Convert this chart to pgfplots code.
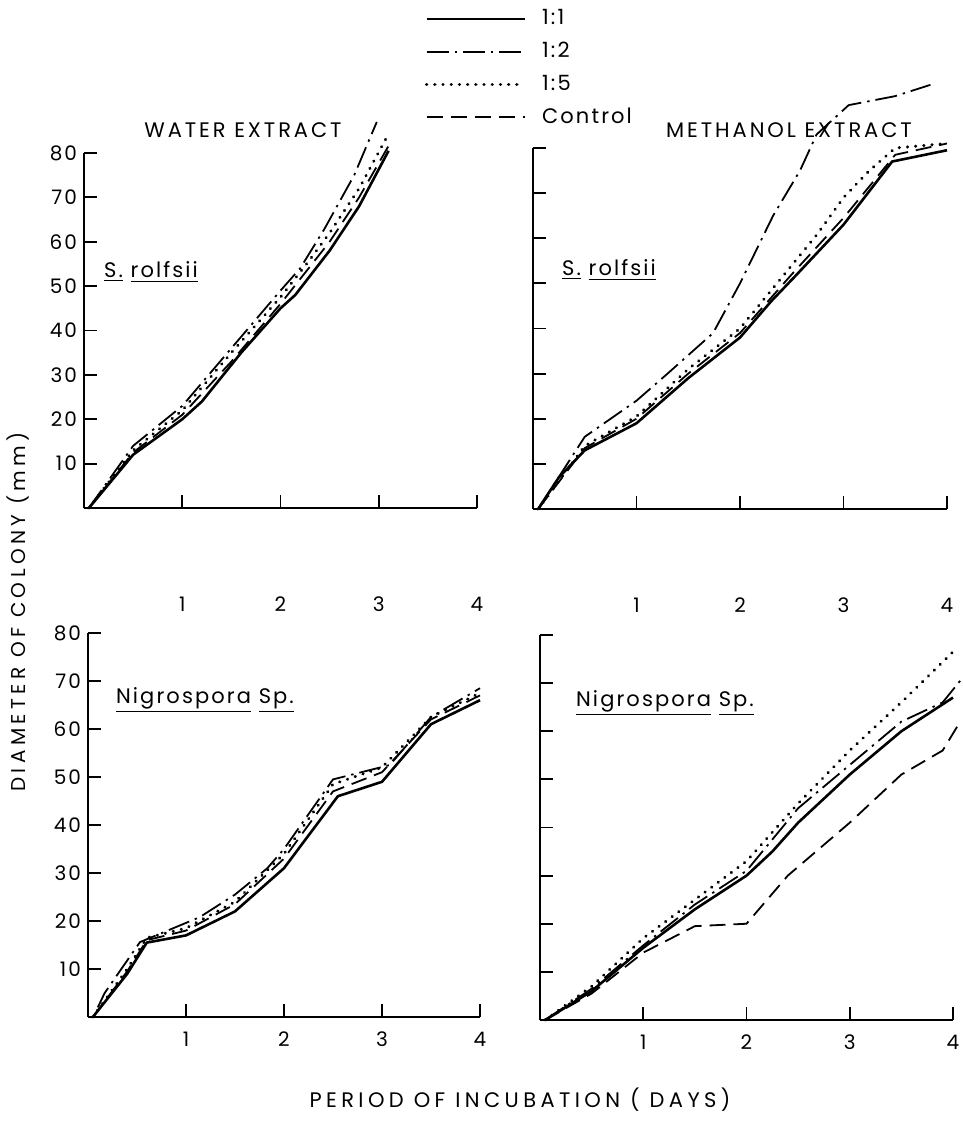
\documentclass[border=0pt]{standalone}
\usepackage{fontspec}
\setmainfont{Poppins}[LetterSpace=10]
\usepackage{pgfplots}
\pgfplotsset{compat=1.18}
\tikzset{
  s11/.style={solid, line width=1.3pt},
  s12/.style={dash pattern=on 11pt off 3pt on 1.2pt off 3pt, line width=0.9pt},
  s15/.style={dash pattern=on 0.1pt off 4pt, line cap=round, line width=1.6pt},
  sctl/.style={dash pattern=on 8pt off 4pt, line width=0.9pt},
}
\pgfplotsset{
  panel/.style={
    scale only axis, axis lines*=left, xmin=0, xmax=4, ymin=0, ymax=80,
    xtick={1,2,3,4}, ytick={10,20,...,80}, tick align=inside,
    major tick length=6.5pt,
    axis line style={line width=1.3pt, black},
    every tick/.style={line width=0.9pt, black},
    clip=false,
    /pgf/number format/assume math mode=true,
    tick label style={font=\fontsize{10}{12}\selectfont},
    every axis plot/.append style={black, no markers},
  },
}
\begin{document}
\begin{tikzpicture}[x=0.5pt,y=0.5pt]
\path[use as bounding box] (0,0) rectangle (963,1141);

% ---------- top left: water extract, S. rolfsii
\begin{axis}[panel, at={(42pt,316.5pt)}, anchor=south west, width=196.5pt, height=177.5pt,
  xticklabel style={yshift=-41pt}]
\addplot[s11] coordinates {(0.05,0) (0.5,12) (1,20) (1.2,24) (1.6,35) (2,45) (2.15,48) (2.5,58) (2.8,68) (3.1,80.5)};
\addplot[s12] coordinates {(0.05,0) (0.5,14) (1,23) (1.5,36) (2,49) (2.2,54) (2.45,63) (2.75,75) (2.98,87)};
\addplot[s15] coordinates {(0.05,0) (0.5,13) (1,22) (1.5,35) (2,47.5) (2.3,56) (2.5,62) (2.8,72) (3.08,83.5)};
\addplot[sctl] coordinates {(0.05,0) (0.5,12.5) (1,21) (1.5,33) (2,46) (2.5,60) (2.8,70) (3.11,82)};
\end{axis}

% ---------- top right: methanol extract, S. rolfsii
\begin{axis}[panel, at={(266.5pt,316pt)}, anchor=south west, width=207pt, height=180.5pt,
  yticklabels={}, xticklabel style={yshift=-41pt},
  legend style={at={(-0.262,1.395)}, anchor=north west, draw=none, fill=none,
    font=\fontsize{10.5}{12}\selectfont, row sep=3.2pt, inner sep=0pt,
    /tikz/every odd column/.append style={column sep=6pt}},
  legend cell align=left,
  legend image code/.code={\draw[#1] (0pt,0pt) -- (49pt,0pt);}]
\addplot[s11] coordinates {(0.05,0) (0.25,7) (0.5,13) (0.75,16) (1,19) (1.5,29) (2,38) (2.3,46) (2.55,52) (3,63) (3.47,77) (4,79.5)};
\addlegendentry{1:1}
\addplot[s12] coordinates {(0.05,0) (0.5,16) (1,24) (1.3,30) (1.74,39) (2,50) (2.32,65) (2.58,75) (2.74,83) (3.05,89.5) (3.5,91.5) (3.84,94)};
\addlegendentry{1:2}
\addplot[s15] coordinates {(0.05,0) (0.5,14) (1,20.5) (1.5,31) (2,40) (2.5,54) (2.75,61) (3,69) (3.25,75) (3.5,80) (4,81)};
\addlegendentry{1:5}
\addplot[sctl] coordinates {(0.05,0) (0.5,13.5) (1,20) (1.5,30) (2,39) (2.5,52) (3,64.5) (3.5,78.5) (4,81)};
\addlegendentry{Control}
\end{axis}

% ---------- bottom left: water extract, Nigrospora
\begin{axis}[panel, at={(44pt,62pt)}, anchor=south west, width=196pt, height=192pt,
  xticklabel style={yshift=-4pt}]
\addplot[s11] coordinates {(0.05,0) (0.4,9) (0.6,15.5) (1,17) (1.5,22) (2,31) (2.55,46) (3,49) (3.5,61) (4,66)};
\addplot[s12] coordinates {(0.1,2) (0.17,5) (0.53,15.6) (1.14,20.8) (1.5,25.5) (1.83,31) (2,35) (2.5,49.5) (3.08,52.5) (3.5,62.5) (4,68.5)};
\addplot[s15] coordinates {(0.05,0) (0.4,10) (0.6,16.5) (1,18.5) (1.5,24) (2,34) (2.5,48.5) (3,52) (3.5,62.5) (4,67.5)};
\addplot[sctl] coordinates {(0.05,0) (0.4,9.5) (0.6,16) (1,18) (1.5,23.5) (2,33) (2.5,47) (3,51) (3.5,62) (4,67)};
\end{axis}

% ---------- bottom right: methanol extract, Nigrospora
\begin{axis}[panel, at={(270pt,60.5pt)}, anchor=south west, width=206.5pt, height=192.5pt,
  yticklabels={}, xticklabel style={yshift=-4pt}]
\addplot[s11] coordinates {(0.05,0) (0.5,6) (1,15) (1.5,23) (2,30) (2.25,35) (2.5,41) (3,51) (3.5,60) (4,67)};
\addplot[s12] coordinates {(0.05,0) (0.5,6.5) (1,15.5) (1.5,24) (2,31) (2.5,44) (3,53) (3.5,62) (3.9,66) (4.07,70.5)};
\addplot[s15] coordinates {(0.05,0) (0.5,7) (1,17) (1.5,25) (2,33) (2.5,45) (3,56) (3.5,66) (4,76.5)};
\addplot[sctl] coordinates {(0.05,0) (0.5,5.5) (1,14) (1.5,19.5) (2,20) (2.4,30) (3,41) (3.5,51) (3.9,56) (4.07,62)};
\end{axis}

% ---------- texts
\node[font=\fontsize{10.5}{12}\selectfont\addfontfeature{LetterSpace=14}] at (243,1011) {WATER EXTRACT};
\node[font=\fontsize{10.5}{12}\selectfont\addfontfeature{LetterSpace=14}] at (789,1011) {METHANOL EXTRACT};
\node[font=\fontsize{10.5}{12}\selectfont] at (151,869) {\underline{S.} \underline{rolfsii}};
\node[font=\fontsize{10.5}{12}\selectfont] at (609,871) {\underline{S.} \underline{rolfsii}};
\node[font=\fontsize{10.5}{12}\selectfont] at (205,441) {\underline{Nigrospora} \underline{Sp.}};
\node[font=\fontsize{10.5}{12}\selectfont] at (665,438) {\underline{Nigrospora} \underline{Sp.}};
\node[font=\fontsize{10}{12}\selectfont\addfontfeature{LetterSpace=22}, rotate=90] at (18,529) {DIAMETER OF COLONY (mm)};
\node[font=\fontsize{10.5}{12}\selectfont\addfontfeature{LetterSpace=21}] at (520,41) {PERIOD OF INCUBATION ( DAYS)};
\end{tikzpicture}
\end{document}
